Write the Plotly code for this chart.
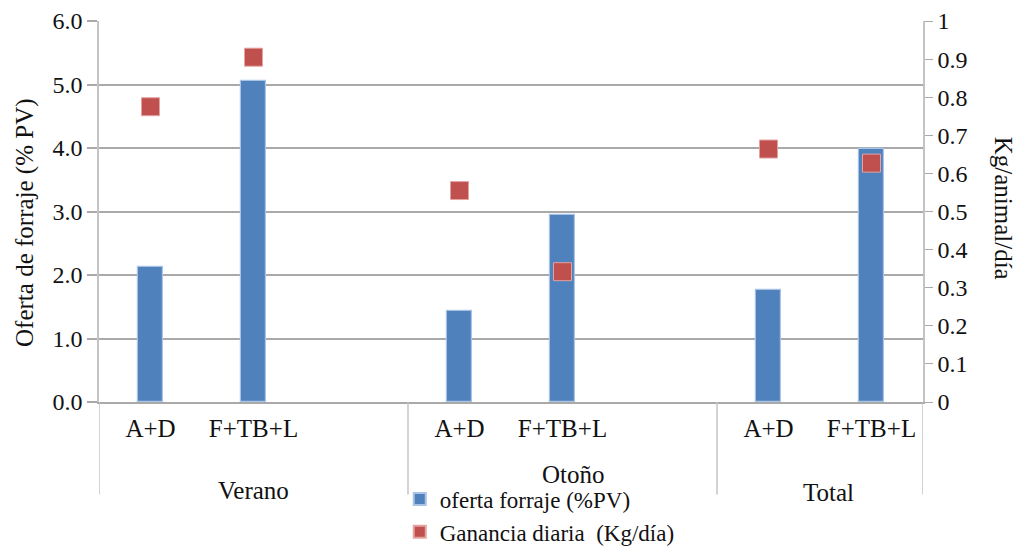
import plotly.graph_objects as go

# Season groups, treatments within each season, and how many category slots each season occupies
grupos = ["Verano", "Otoño", "Total"]
tratamientos = ["A+D", "F+TB+L"]
ranuras_por_grupo = [3, 3, 2]

# Forage offer (% live weight) and daily gain (kg/animal/day), season by season, treatment by treatment
oferta_forraje = [2.12, 5.06, 1.44, 2.94, 1.77, 3.99]
ganancia_diaria = [0.775, 0.905, 0.555, 0.342, 0.664, 0.627]

FUENTE = "Liberation Serif"
GRIS = "#a9a9a9"
AZUL = "#4f81bd"
ROJO = "#c0504d"
TEXTO = "#111111"

# Category slot positions for each bar/point and the boundaries between seasons
xs, etiquetas, limites, centros = [], [], [-0.5], []
inicio = 0
for g, n in zip(grupos, ranuras_por_grupo):
    for i, t in enumerate(tratamientos):
        xs.append(inicio + i)
        etiquetas.append(t)
    limites.append(inicio + n - 0.5)
    centros.append(inicio + (n - 1) / 2)
    inicio += n

fig = go.Figure()

fig.add_trace(go.Bar(
    x=xs, y=oferta_forraje, width=0.245,
    name="oferta forraje (%PV)",
    marker=dict(color=AZUL, line=dict(color="#a9c3e6", width=1.2)),
    legendgroup="a",
))
fig.add_trace(go.Scatter(
    x=xs, y=ganancia_diaria, yaxis="y2", mode="markers",
    name="Ganancia diaria  (Kg/día)",
    marker=dict(symbol="square", size=18, color=ROJO,
                line=dict(color="#e3a3a1", width=1)),
    legendgroup="b",
))

# Vertical dividers between the season groups under the axis
for xb in limites:
    fig.add_shape(type="line", xref="x", yref="paper",
                  x0=xb, x1=xb, y0=0, y1=-0.243,
                  line=dict(color="#c4c4c4", width=1.5))

anotaciones = []
desplaz = {"Verano": (0, -88), "Otoño": (11, -72), "Total": (8, -90)}
for g, c in zip(grupos, centros):
    dx, dy = desplaz[g]
    anotaciones.append(dict(
        x=c, y=0, xref="x", yref="paper", text=g, showarrow=False,
        xanchor="center", yanchor="middle",
        xshift=dx, yshift=dy, font=dict(family=FUENTE, size=25, color=TEXTO),
    ))
anotaciones.append(dict(
    x=0, y=0.47, xref="paper", yref="paper", xshift=-74,
    xanchor="center", yanchor="middle",
    text="Oferta de forraje (% PV)", textangle=-90, showarrow=False,
    font=dict(family=FUENTE, size=25, color=TEXTO),
))
anotaciones.append(dict(
    x=1, y=0.51, xref="paper", yref="paper", xshift=80,
    xanchor="center", yanchor="middle",
    text="Kg/animal/día", textangle=90, showarrow=False,
    font=dict(family=FUENTE, size=25, color=TEXTO),
))

fig.update_layout(
    width=1026, height=546,
    margin=dict(l=99, r=103, t=21, b=144, autoexpand=False),
    paper_bgcolor="white", plot_bgcolor="white",
    font=dict(family=FUENTE, color=TEXTO),
    bargap=0,
    xaxis=dict(
        range=[-0.5, sum(ranuras_por_grupo) - 0.5],
        tickmode="array", tickvals=xs, ticktext=etiquetas,
        ticks="", ticklabelstandoff=3,
        tickfont=dict(family=FUENTE, size=25, color=TEXTO),
        showgrid=False, zeroline=False,
        showline=True, linecolor=GRIS, linewidth=1.5,
    ),
    yaxis=dict(
        range=[0, 6], dtick=1, tickformat=".1f",
        ticks="outside", ticklen=10, tickcolor=GRIS, tickwidth=1.5,
        tickfont=dict(family=FUENTE, size=24, color=TEXTO),
        showgrid=True, gridcolor=GRIS, gridwidth=1.5,
        zeroline=False, showline=True, linecolor="#c4c4c4", linewidth=1.5,
    ),
    yaxis2=dict(
        range=[0, 1], dtick=0.1, overlaying="y", side="right",
        ticks="outside", ticklen=8, tickcolor=GRIS, tickwidth=1.2,
        tickfont=dict(family=FUENTE, size=24, color=TEXTO),
        showgrid=False, zeroline=False,
        showline=True, linecolor="#c4c4c4", linewidth=1.5,
    ),
    legend=dict(
        x=0.365, y=-0.198, xanchor="left", yanchor="top",
        orientation="v", tracegroupgap=0,
        font=dict(family=FUENTE, size=23, color=TEXTO),
        bgcolor="rgba(0,0,0,0)", itemsizing="constant",
    ),
    annotations=anotaciones,
)

fig.write_html("out.html")
